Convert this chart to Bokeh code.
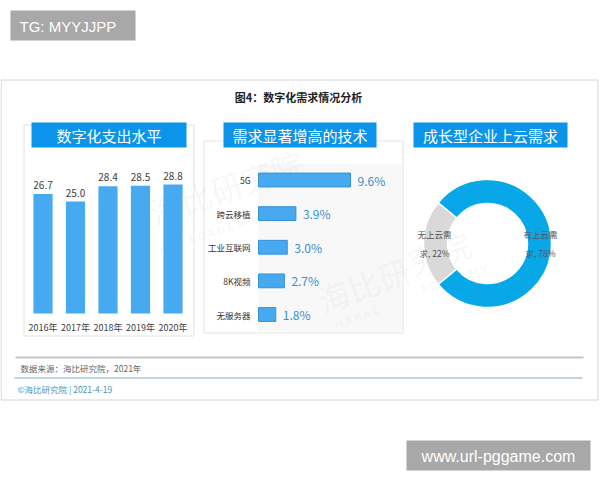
import math
from bokeh.plotting import figure
from bokeh.models import Range1d
from bokeh.core.properties import value
from bokeh.embed import file_html
from bokeh.resources import INLINE

# ---------------- data ----------------
years = ["2016年", "2017年", "2018年", "2019年", "2020年"]
spend = [26.7, 25.0, 28.4, 28.5, 28.8]

techs = ["5G", "跨云移植", "工业互联网", "8K视频", "无服务器"]
tech_pct = [9.6, 3.9, 3.0, 2.7, 1.8]

cloud_cats = ["有上云需求", "无上云需求"]
cloud_pct = [78, 22]

title = "图4：数字化需求情况分析"
panel_titles = ["数字化支出水平", "需求显著增高的技术", "成长型企业上云需求"]
source_note = "数据来源：海比研究院，2021年"
copyright_note = "©海比研究院  |  2021-4-19"

# ---------------- styles ----------------
CJK = value("Noto Sans CJK SC")
SANS = value("Liberation Sans")
TITLE_BLUE = "#0c94ea"
BAR_BLUE = "#47aaf0"
DONUT_COLORS = ["#08a8e8", "#d9d9d9"]

# picture-pixel coordinate canvas
PX0, PX1, PY0, PY1 = 0, 600, 0, 480
p = figure(width=PX1 - PX0, height=PY1 - PY0, output_backend="svg",
           toolbar_location=None, x_range=Range1d(PX0, PX1),
           y_range=Range1d(PY1, PY0), min_border=0,
           x_axis_location=None, y_axis_location=None)
p.grid.visible = False
p.outline_line_color = None
p.background_fill_color = "white"
p.border_fill_color = "white"


def span_range(v0, p0, v1, p1, pa, pb):
    """Range whose value v0 lands on picture pixel p0 and v1 on p1."""
    k = (p1 - p0) / (v1 - v0)
    return Range1d(start=v0 + (pa - p0) / k, end=v0 + (pb - p0) / k)


# ---------------- frame / decorations ----------------
p.quad(left=10, right=135, top=10, bottom=40, fill_color="#a8a8a8", line_color=None)
p.text(x=[19], y=[25.5], text=["TG: MYYJJPP"], text_font=SANS, text_font_size="15px",
       text_color="white", text_baseline="middle", text_align="left")
p.quad(left=406, right=590, top=440, bottom=470, fill_color="#a8a8a8", line_color=None)
p.text(x=[498], y=[455.5], text=["www.url-pggame.com"], text_font=SANS, text_font_size="16px",
       text_color="white", text_baseline="middle", text_align="center")

# outer box
p.quad(left=0.5, right=597.5, top=79.5, bottom=399.5, fill_color=None,
       line_color="#d4d4d4", line_width=1)

p.text(x=[298], y=[96], text=[title], text_font=CJK, text_font_size="11px",
       text_font_style="bold", text_color="#222222", text_align="center",
       text_baseline="middle")

# panel borders
p.quad(left=[23.5, 203.5], right=[193.5, 402.5], top=[124.5, 140.5], bottom=[335.5, 332.5],
       fill_color=None, line_color="#e2e2e2", line_width=1)
p.quad(left=258, right=402, top=164, bottom=332, fill_color="#f8f8f8", line_color=None)

# watermarks
p.text(x=[150, 318, 408], y=[212, 300, 262], text=["海比研究院", "海比研", "究院"],
       angle=[0.33, 0.35, 0.33], text_font=CJK, text_font_size="32px",
       text_color="#888888", text_alpha=0.08, text_align="left", text_baseline="middle")
p.text(x=[160, 335, 420], y=[250, 325, 290], text=["H A P   A C A D E M Y", "H A P   A C", "A C A D E M Y"],
       angle=[0.33, 0.35, 0.33], text_font=SANS, text_font_size="11px",
       text_color="#888888", text_alpha=0.10, text_align="left", text_baseline="middle")

# panel title boxes
tb_left = [31, 223, 413]
tb_right = [186, 376, 567]
p.quad(left=tb_left, right=tb_right, top=122, bottom=147, fill_color=TITLE_BLUE, line_color=None)
p.text(x=[(a + b) / 2 for a, b in zip(tb_left, tb_right)], y=[135] * 3, text=panel_titles,
       text_font=CJK, text_font_size="15px", text_color="white",
       text_align="center", text_baseline="middle")

# ---------------- panel 1: vertical bars ----------------
yi = list(range(len(years)))
p.extra_x_ranges["yr"] = span_range(0, 42.5, 4, 172.5, PX0, PX1)
p.extra_y_ranges["spend"] = span_range(0, 313, 28.8, 184, PY1, PY0)
p.vbar(x=yi, top=spend, bottom=0, width=0.59, x_range_name="yr", y_range_name="spend",
       fill_color=BAR_BLUE, line_color=None)
p.text(x=yi, y=spend, text=[f"{v:.1f}" for v in spend], x_range_name="yr", y_range_name="spend",
       text_font=CJK, text_font_size="10px", text_color="#404040",
       text_align="center", text_baseline="bottom", y_offset=-5)
p.text(x=yi, y=[0] * len(years), text=years, x_range_name="yr", y_range_name="spend",
       text_font=CJK, text_font_size="9px", text_color="#404040",
       text_align="center", text_baseline="top", y_offset=7)

# ---------------- panel 2: horizontal bars ----------------
ti = list(range(len(techs)))
p.extra_x_ranges["pct"] = span_range(0, 258, 9.6, 350, PX0, PX1)
p.extra_y_ranges["tech"] = span_range(0, 179.5, 4, 314, PY1, PY0)
p.hbar(y=ti, right=tech_pct, left=0, height=0.41, x_range_name="pct", y_range_name="tech",
       fill_color=BAR_BLUE, line_color="#3590d6", line_width=1)
p.text(x=tech_pct, y=ti, text=[f"{v:.1f}%" for v in tech_pct], x_range_name="pct",
       y_range_name="tech", text_font=CJK, text_font_size="12px", text_color="#3690cf",
       text_align="left", text_baseline="middle", x_offset=7)
p.text(x=[0] * len(techs), y=ti, text=techs, x_range_name="pct", y_range_name="tech",
       text_font=CJK, text_font_size="8.5px", text_color="#333333",
       text_align="right", text_baseline="middle", x_offset=-8)

# ---------------- panel 3: donut ----------------
cx, cy, r_in, r_out, r_lab = 487, 243, 40, 64, 53
total = float(sum(cloud_pct))
fracs = [v / total for v in cloud_pct]
start0 = -fracs[0] * math.pi
starts, ends = [], []
acc = start0
for f in fracs:
    starts.append(acc)
    acc += f * 2 * math.pi
    ends.append(acc)
p.annular_wedge(x=cx, y=cy, inner_radius=r_in, outer_radius=r_out,
                inner_radius_units="screen", outer_radius_units="screen",
                start_angle=starts, end_angle=ends, fill_color=DONUT_COLORS,
                line_color="white", line_width=1.5)
mids = [(a + b) / 2 for a, b in zip(starts, ends)]
lab_x = [cx + r_lab * math.cos(m) for m in mids]
lab_y = [cy - r_lab * math.sin(m) for m in mids]
lab_t = [f"{c[:4]}\n{c[4:]}, {v}%" for c, v in zip(cloud_cats, cloud_pct)]
p.text(x=lab_x, y=lab_y, text=lab_t, text_font=CJK, text_font_size="8.5px",
       text_color="#555555", text_align="center", text_baseline="middle",
       text_line_height=1.6)

# ---------------- footer ----------------
p.segment(x0=[15], y0=[357], x1=[583], y1=[357], line_color="#c4c4c4", line_width=2)
p.text(x=[20], y=[367.5], text=[source_note], text_font=CJK, text_font_size="8.5px",
       text_color="#666666", text_align="left", text_baseline="middle")
p.segment(x0=[14], y0=[377.5], x1=[582], y1=[377.5], line_color="#a9c7cf", line_width=1.5)
p.text(x=[17], y=[388], text=[copyright_note], text_font=CJK, text_font_size="8.5px",
       text_color="#4a94b8", text_align="left", text_baseline="middle")

open("out.html", "w").write(file_html(p, INLINE))
